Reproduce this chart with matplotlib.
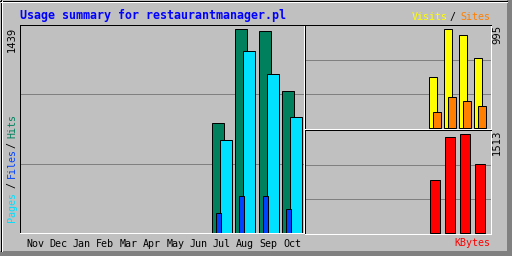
import matplotlib
matplotlib.use("Agg")
import matplotlib.pyplot as plt
from matplotlib.patches import Rectangle

# data (Nov .. Oct)
months = ["Nov", "Dec", "Jan", "Feb", "Mar", "Apr", "May", "Jun", "Jul", "Aug", "Sep", "Oct"]
hits = [0, 0, 0, 0, 0, 0, 0, 0, 773, 1439, 1425, 1000]
pages = [0, 0, 0, 0, 0, 0, 0, 0, 652, 1283, 1120, 815]
files = [0, 0, 0, 0, 0, 0, 0, 0, 135, 255, 262, 163]
visits = [0, 0, 0, 0, 0, 0, 0, 0, 508, 995, 934, 700]
sites = [0, 0, 0, 0, 0, 0, 0, 0, 152, 305, 264, 213]
kbytes = [0, 0, 0, 0, 0, 0, 0, 0, 803, 1467, 1513, 1050]

title = "Usage summary for restaurantmanager.pl"

BG = "#c0c0c0"
GRID = "#808080"
C_HITS = "#00805c"
C_FILES = "#0040ff"
C_PAGES = "#00e0ff"
C_VISITS = "#ffff00"
C_SITES = "#ff8000"
C_KB = "#ff0000"
LW = 0.72  # 1 px

W, H = 512, 256
fig = plt.figure(figsize=(W / 100, H / 100), dpi=100)
fig.patch.set_facecolor(BG)

# background / frame in pixel coords
bg = fig.add_axes([0, 0, 1, 1])
bg.set_xlim(0, W)
bg.set_ylim(H, 0)
bg.axis("off")
bg.add_patch(Rectangle((0, 0), W, H, facecolor=BG, edgecolor="none"))
bg.add_patch(Rectangle((507, 0), 5, H, facecolor=GRID, edgecolor="none"))
bg.add_patch(Rectangle((0, 251), W, 5, facecolor=GRID, edgecolor="none"))
bg.plot([0.5, 0.5], [0, 251], color="black", lw=LW)
bg.plot([0, 507], [0.5, 0.5], color="black", lw=LW)
bg.plot([1.5, 1.5], [1, 251], color="white", lw=LW)
bg.plot([1, 507], [1.5, 1.5], color="white", lw=LW)


def panel(x0, y0, x1, y1):
    ax = fig.add_axes([x0 / W, (H - y1) / H, (x1 - x0) / W, (y1 - y0) / H])
    ax.set_facecolor(BG)
    for s in ["top", "left"]:
        ax.spines[s].set_color("black")
        ax.spines[s].set_linewidth(LW)
    for s in ["bottom", "right"]:
        ax.spines[s].set_color("white")
        ax.spines[s].set_linewidth(LW)
    for f in (1 / 3, 2 / 3):
        ax.plot([0, 1], [f, f], transform=ax.transAxes, color=GRID, lw=LW, zorder=0)
    ax.set_yticks([])
    ax.tick_params(length=0)
    return ax


def bars(ax, vals, offset, width, color):
    # empty months get no bar at all
    xs = [i + offset for i, v in enumerate(vals) if v > 0]
    ys = [v for v in vals if v > 0]
    ax.bar(xs, ys, width=width, align="edge", color=color, edgecolor="black", lw=LW)


idx = list(range(len(months)))

# main panel: hits / pages / files
step = 23.33
ax1 = panel(20, 25, 304, 233)
ax1.set_xlim((20 - 25.3) / step, (304 - 25.3) / step)
sc1 = 1439 / 203.2
ax1.set_ylim(-0.5 * sc1, (232.5 - 25) * sc1)
bars(ax1, hits, 0, 12 / step, C_HITS)
bars(ax1, pages, 8 / step, 12 / step, C_PAGES)
bars(ax1, files, 4 / step, 5 / step, C_FILES)
ax1.set_xticks([i + 10 / step for i in idx])
ax1.set_xticklabels(months, family="DejaVu Sans Mono", fontsize=7.2)
ax1.tick_params(axis="x", pad=4)

# visits / sites
step2 = 15.0
ax2 = panel(305, 25, 491, 129)
ax2.set_xlim((305 - 309.3) / step2, (491 - 309.3) / step2)
sc2 = 995 / 98.2
ax2.set_ylim(-1.5 * sc2, (127.5 - 25) * sc2)
bars(ax2, visits, 0, 8 / step2, C_VISITS)
bars(ax2, sites, 4 / step2, 8 / step2, C_SITES)
ax2.set_xticks([])

# kbytes
ax3 = panel(305, 130, 491, 234)
ax3.set_xlim((305 - 309.3) / step2, (491 - 309.3) / step2)
sc3 = 1513 / 98.2
ax3.set_ylim(-1.5 * sc3, (232.5 - 130) * sc3)
bars(ax3, kbytes, 0.7 / step2, 10 / step2, C_KB)
ax3.set_xticks([])

# texts
mono = "DejaVu Sans Mono"
bg.text(20, 15, title, family=mono, fontsize=8.4, weight="bold", color="#0000ff",
        ha="left", va="center")

bg.text(412, 17, "Visits", family=mono, fontsize=7.2, color=C_VISITS, ha="left", va="center")
bg.text(453, 17, "/", family=mono, fontsize=7.2, color="black", ha="center", va="center")
bg.text(490, 17, "Sites", family=mono, fontsize=7.2, color=C_SITES, ha="right", va="center")
bg.text(490, 243, "KBytes", family=mono, fontsize=7.2, color=C_KB, ha="right", va="center")

bg.text(12, 222, "Pages", family=mono, fontsize=7.2, color=C_PAGES, rotation=90,
        ha="center", va="bottom")
bg.text(12, 185, "/", family=mono, fontsize=7.2, color="black", rotation=90,
        ha="center", va="center")
bg.text(12, 178, "Files", family=mono, fontsize=7.2, color=C_FILES, rotation=90,
        ha="center", va="bottom")
bg.text(12, 145, "/", family=mono, fontsize=7.2, color="black", rotation=90,
        ha="center", va="center")
bg.text(12, 138, "Hits", family=mono, fontsize=7.2, color=C_HITS, rotation=90,
        ha="center", va="bottom")

bg.text(12, 27, str(max(hits)), family="DejaVu Sans", fontsize=7.2, color="black",
        rotation=90, ha="center", va="top")
bg.text(497, 25, str(max(visits)), family="DejaVu Sans", fontsize=7.2, color="black",
        rotation=90, ha="center", va="top")
bg.text(497, 130, str(max(kbytes)), family="DejaVu Sans", fontsize=7.2, color="black",
        rotation=90, ha="center", va="top")

fig.savefig("out.png", dpi=100, facecolor=BG)
